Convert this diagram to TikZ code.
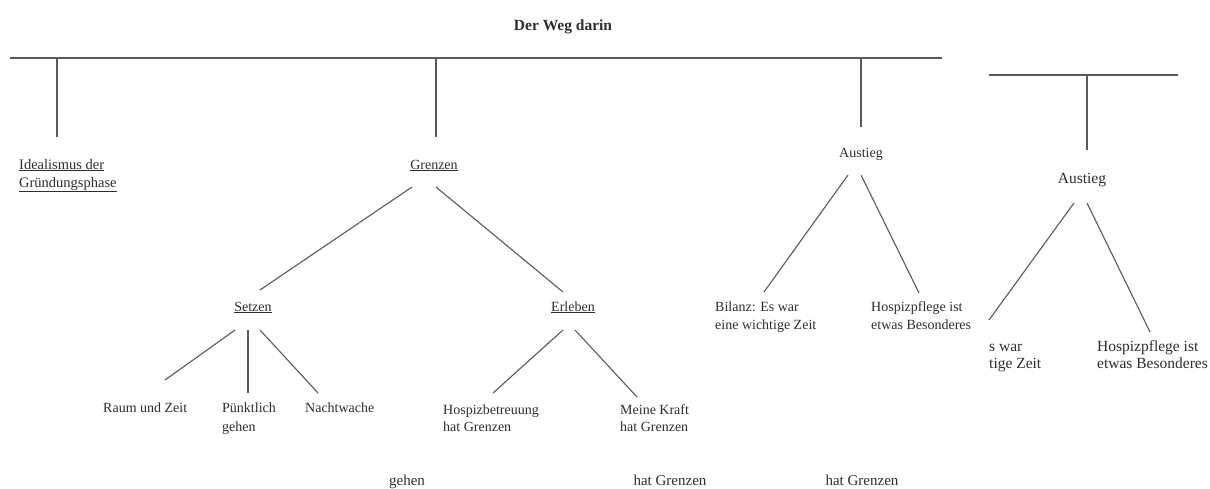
\documentclass[tikz,border=0pt]{standalone}
\usepackage{fontspec}
\setmainfont{Liberation Serif}
\definecolor{ln}{HTML}{5A5A5A}
\definecolor{tx}{HTML}{2E2E2E}
\tikzset{
  conn/.style={draw=ln, line width=1.1pt},
  lbl/.style={inner sep=0pt, text=tx, font=\fontsize{14}{18}\selectfont, align=left},
  lblc/.style={lbl, anchor=base},
  lblw/.style={lbl, anchor=base west},
  big/.style={font=\fontsize{15.5}{16.5}\selectfont},
}
\begin{document}
\begin{tikzpicture}[x=1pt,y=-1pt]
\useasboundingbox (0,0) rectangle (1210,488);
\fill[white] (0,0) rectangle (1210,488);

% title
\node[lblc, font=\bfseries\fontsize{15.5}{18}\selectfont] (title) at (563,30) {Der Weg darin};

% main bar and drops
\coordinate (mL) at (10,58);
\coordinate (mR) at (942,58);
\coordinate (d1t) at (57,58);   \coordinate (d1b) at (57,137);
\coordinate (d2t) at (436,58);  \coordinate (d2b) at (436,137);
\coordinate (d3t) at (861,58);  \coordinate (d3b) at (861,127);
\draw[conn] (mL) -- (mR);
\draw[conn] (d1t) -- (d1b);
\draw[conn] (d2t) -- (d2b);
\draw[conn] (d3t) -- (d3b);

% second bar
\coordinate (sL) at (989,75);
\coordinate (sR) at (1178,75);
\coordinate (s1t) at (1087,75); \coordinate (s1b) at (1087,150);
\draw[conn] (sL) -- (sR);
\draw[conn] (s1t) -- (s1b);

% level 1 nodes (multi-line nodes: base = baseline of last line)
\node[lblw, font=\fontsize{14.5}{18}\selectfont] (ideal) at (19,187) {\underline{Idealismus der}\\\underline{Gründungsphase}};
\node[lblc] (grenzen) at (434,169) {\underline{Grenzen}};
\node[lblc] (aus1) at (861,157) {Austieg};
\node[lblc, big] (aus2) at (1082,183) {Austieg};

% level 2
\node[lblc] (setzen) at (253,311) {\underline{Setzen}};
\node[lblc] (erleben) at (573,311) {\underline{Erleben}};

% leaves
\node[lblw] (raum) at (103,412) {Raum und Zeit};
\node[lblw, font=\fontsize{14}{19}\selectfont] (puenkt) at (222,431) {Pünktlich\\gehen};
\node[lblw] (nacht) at (305,412) {Nachtwache};
\node[lblw, font=\fontsize{14}{17}\selectfont] (hospiz) at (443,431) {Hospizbetreuung\\hat Grenzen};
\node[lblw, font=\fontsize{14}{17}\selectfont] (kraft) at (620,431) {Meine Kraft\\hat Grenzen};
\node[lblw] (bilanz) at (715,329) {Bilanz: Es war\\eine wichtige Zeit};
\node[lblw] (pflege1) at (871,329) {Hospizpflege ist\\etwas Besonderes};
\node[lblw, big] (cut) at (989,368) {s war\\tige Zeit};
\node[lblw, big] (pflege2) at (1097,368) {Hospizpflege ist\\etwas Besonderes};

% bottom stray texts
\node[lblc, font=\fontsize{15}{18}\selectfont] (b1) at (407,485) {gehen};
\node[lblc, font=\fontsize{15}{18}\selectfont] (b2) at (670,485) {hat Grenzen};
\node[lblc, font=\fontsize{15}{18}\selectfont] (b3) at (862,485) {hat Grenzen};

% connectors Grenzen
\coordinate (g1) at (412,187); \coordinate (g1e) at (260,290);
\coordinate (g2) at (436,187); \coordinate (g2e) at (563,292);
\draw[conn] (g1) -- (g1e);
\draw[conn] (g2) -- (g2e);

% connectors Setzen
\coordinate (st1) at (235,330); \coordinate (st1e) at (165,380);
\coordinate (st2) at (248,330); \coordinate (st2e) at (248,393);
\coordinate (st3) at (260,330); \coordinate (st3e) at (318,393);
\draw[conn] (st1) -- (st1e);
\draw[conn] (st2) -- (st2e);
\draw[conn] (st3) -- (st3e);

% connectors Erleben
\coordinate (er1) at (563,330); \coordinate (er1e) at (493,393);
\coordinate (er2) at (575,330); \coordinate (er2e) at (637,397);
\draw[conn] (er1) -- (er1e);
\draw[conn] (er2) -- (er2e);

% connectors Austieg 1
\coordinate (a1) at (848,175); \coordinate (a1e) at (764,292);
\coordinate (a2) at (861,175); \coordinate (a2e) at (919,293);
\draw[conn] (a1) -- (a1e);
\draw[conn] (a2) -- (a2e);

% connectors Austieg 2
\coordinate (b1s) at (1074,203); \coordinate (b1e) at (989,320);
\coordinate (b2s) at (1087,203); \coordinate (b2e) at (1150,332);
\draw[conn] (b1s) -- (b1e);
\draw[conn] (b2s) -- (b2e);
\end{tikzpicture}
\end{document}
